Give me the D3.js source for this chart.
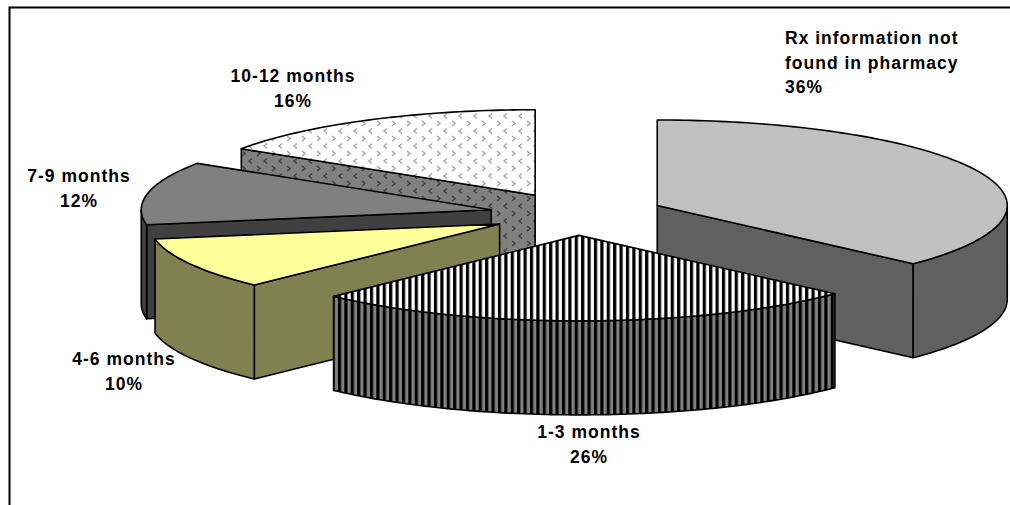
<!DOCTYPE html>
<html>
<head>
<meta charset="utf-8">
<script src="https://cdn.jsdelivr.net/npm/d3@7/dist/d3.min.js"></script>
<style>
  html, body { margin: 0; padding: 0; background: #fff; }
  svg { display: block; }
  text { font-family: "Liberation Sans", Arial, sans-serif; font-weight: bold; font-size: 17.5px; letter-spacing: 1px; fill: #000; }
</style>
</head>
<body>
<svg id="chart" width="1010" height="505"></svg>
<script>
// Time since last refill, share of prescriptions, clockwise from 12 o'clock.
const categories = ["Rx information not found in pharmacy", "1-3 months", "4-6 months", "7-9 months", "10-12 months"];
const percents = [36, 26, 10, 12, 16];
const topFills = ["#c0c0c0", "url(#stripesTop)", "#ffff99", "#808080", "url(#chevronsTop)"];
const sideFills = ["#606060", "url(#stripesSide)", "#808050", "#404040", "url(#chevronsSide)"];
const labelLines = [
  ["Rx information not", "found in pharmacy", "36%"],
  ["1-3 months", "26%"],
  ["4-6 months", "10%"],
  ["7-9 months", "12%"],
  ["10-12 months", "16%"]
];
// Painter's order: back slices first, the front slice last.
const drawOrder = [4, 3, 2, 0, 1];

const width = 1010, height = 505;
const pieCenter = { x: 577, y: 214 };
const radiusX = 350, radiusY = 85.5, depth = 94;
const explode = 0.25;          // slice pull-out, as a share of the radius
const labelAnchors = [
  { x: 785, y: 44, anchor: "start" },
  { x: 589, y: 438, anchor: "middle" },
  { x: 124, y: 365, anchor: "middle" },
  { x: 79, y: 182, anchor: "middle" },
  { x: 293, y: 82, anchor: "middle" }
];
const lineStep = 24.7;

const svg = d3.select("#chart");
const defs = svg.append("defs");

function stripes(id, base) {
  const p = defs.append("pattern").attr("id", id).attr("patternUnits", "userSpaceOnUse")
    .attr("x", 331.5).attr("width", 6.4).attr("height", 6);
  p.append("rect").attr("width", 6.4).attr("height", 6).attr("fill", base);
  p.append("rect").attr("x", 0).attr("width", 3.2).attr("height", 6).attr("fill", "#000");
}
function chevrons(id, base, ink) {
  const p = defs.append("pattern").attr("id", id).attr("patternUnits", "userSpaceOnUse")
    .attr("width", 15).attr("height", 15);
  p.append("rect").attr("width", 15).attr("height", 15).attr("fill", base);
  p.append("path").attr("d", "M2,1 L5,3.5 L2,6 M12,8.5 L9,11 L12,13.5")
    .attr("fill", "none").attr("stroke", ink).attr("stroke-width", 1.5);
}
stripes("stripesTop", "#fff");
stripes("stripesSide", "#808080");
chevrons("chevronsTop", "#fff", "#a8a8a8");
chevrons("chevronsSide", "#808080", "#404040");

const arcs = d3.pie().sort(null).value(d => d).startAngle(0).endAngle(2 * Math.PI)(percents);

// The 3-D view opens the front-right of the disc a little, so drawn angles lead the true ones.
const degrees = d3.scaleLinear().domain([0, 180]).range([0, Math.PI]);
const viewAngle = a => a + degrees(0.77 * Math.sin(a) + 1.38 * (1 - Math.cos(a)) - 0.56 * Math.sin(2 * a));

const sx = d3.scaleLinear().domain([-1, 1]).range([-radiusX, radiusX]);
const sy = d3.scaleLinear().domain([-1, 1]).range([-radiusY, radiusY]);
const line = d3.line();

function apexOf(d) {
  const mid = (viewAngle(d.startAngle) + viewAngle(d.endAngle)) / 2;
  return [pieCenter.x + explode * sx(Math.sin(mid)), pieCenter.y - explode * sy(Math.cos(mid))];
}
function rimPoint(apex, a, drop) {
  return [apex[0] + sx(Math.sin(a)), apex[1] - sy(Math.cos(a)) + drop];
}
function sweep(a0, a1) {
  const n = Math.max(2, Math.ceil(Math.abs(a1 - a0) / 0.02));
  return d3.range(n + 1).map(i => a0 + (a1 - a0) * i / n);
}

const slices = svg.append("g");
drawOrder.forEach(i => {
  const d = arcs[i];
  const apex = apexOf(d);
  const a0 = viewAngle(d.startAngle), a1 = viewAngle(d.endAngle);
  const g = slices.append("g").attr("stroke", "#000").attr("stroke-width", 1.6).attr("stroke-linejoin", "round");

  // Cut faces that turn toward the viewer.
  [[a0, Math.sin(a0) < -1e-6], [a1, Math.sin(a1) > 1e-6]].forEach(([a, visible]) => {
    if (!visible) return;
    const edge = rimPoint(apex, a, 0);
    g.append("path").attr("fill", sideFills[i]).attr("d", line([
      apex, edge, [edge[0], edge[1] + depth], [apex[0], apex[1] + depth]
    ]) + "Z");
  });

  // Outer wall: only the front half of the disc shows.
  const from = Math.max(a0, Math.PI / 2), to = Math.min(a1, 3 * Math.PI / 2);
  if (to > from) {
    const arcAngles = sweep(from, to);
    g.append("path").attr("fill", sideFills[i]).attr("d", line(
      arcAngles.map(a => rimPoint(apex, a, 0)).concat(arcAngles.slice().reverse().map(a => rimPoint(apex, a, depth)))
    ) + "Z");
  }

  // Top surface.
  g.append("path").attr("fill", topFills[i]).attr("d", line(
    [apex].concat(sweep(a0, a1).map(a => rimPoint(apex, a, 0)))
  ) + "Z");
});

// Data labels.
const labels = svg.append("g");
labelLines.forEach((lines, i) => {
  const t = labels.append("text").attr("text-anchor", labelAnchors[i].anchor);
  lines.forEach((s, k) => t.append("tspan").attr("x", labelAnchors[i].x)
    .attr("y", labelAnchors[i].y + k * lineStep).text(s));
});

// Frame around the plot: top and left rules only.
svg.append("path").attr("d", line([[9.5, height], [9.5, 7.5], [width, 7.5]]))
  .attr("fill", "none").attr("stroke", "#000").attr("stroke-width", 2);
</script>
</body>
</html>
